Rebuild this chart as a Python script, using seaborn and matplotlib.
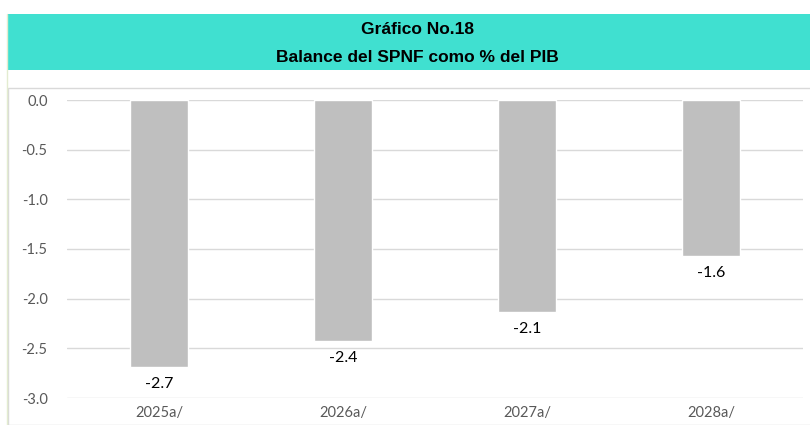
import pandas as pd
import seaborn as sns
import matplotlib.pyplot as plt
from matplotlib.patches import Rectangle

# data
years = ['2025a/', '2026a/', '2027a/', '2028a/']
balance = [-2.69, -2.43, -2.13, -1.57]
labels = ['-2.7', '-2.4', '-2.1', '-1.6']

df = pd.DataFrame({'year': years, 'balance': balance})

sns.set_style('white')
plt.rcParams['font.family'] = ['Lato', 'DejaVu Sans']

fig = plt.figure(figsize=(8.1, 4.25), dpi=100)

# turquoise title band
fig.patches.append(Rectangle((7/810, 1-70/425), 1-7/810, 56/425, transform=fig.transFigure,
                             facecolor='#40E0D0', edgecolor='none', zorder=0))
fig.patches.append(Rectangle((8/810, 0), 1, 1-88/425, transform=fig.transFigure,
                             facecolor='none', edgecolor='#d9d9d9', lw=1, zorder=0))
fig.lines.append(plt.Line2D([7/810, 7/810], [0, 1-14/425], transform=fig.transFigure,
                            color='#e3ecd0', lw=1))
title_font = ['Liberation Sans Narrow', 'Liberation Sans', 'DejaVu Sans']
fig.text(0.515, 1-30/425, 'Gráfico No.18', ha='center', va='center', fontsize=12.5,
         fontweight='bold', color='black', family=title_font)
fig.text(0.515, 1-57/425, 'Balance del SPNF como % del PIB', ha='center', va='center', fontsize=12.5,
         fontweight='bold', color='black', family=title_font)

ax = fig.add_axes([67/810, 1-398/425, 736/810, 298/425])
sns.barplot(data=df, x='year', y='balance', color='#bfbfbf', width=0.31, saturation=1, ax=ax)

ax.set_ylim(-3.0, 0.0)
ax.set_xlim(-0.5, 3.5)
ax.set_yticks([0.0, -0.5, -1.0, -1.5, -2.0, -2.5, -3.0])
ax.set_yticklabels(['%.1f' % v for v in ax.get_yticks()])
ax.yaxis.grid(True, color='#d9d9d9', lw=1)
ax.set_axisbelow(True)
for s in ax.spines.values():
    s.set_visible(False)
ax.tick_params(axis='y', length=0, pad=14, labelsize=10.5, labelcolor='#595959')
ax.tick_params(axis='x', length=0, pad=6, labelsize=10.5, labelcolor='#595959')
ax.set_xlabel('')
ax.set_ylabel('')

for i, (v, t) in enumerate(zip(balance, labels)):
    ax.text(i, v - 0.1, t, ha='center', va='top', fontsize=11.5, color='black')

plt.savefig('out.png', dpi=100)
